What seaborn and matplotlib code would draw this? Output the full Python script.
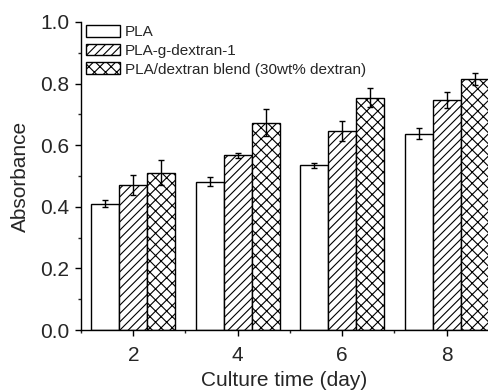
import matplotlib
matplotlib.use("Agg")
import matplotlib.pyplot as plt
import seaborn as sns
import pandas as pd
import numpy as np
from matplotlib.ticker import MultipleLocator

days = [2, 4, 6, 8]
groups = ["PLA", "PLA-g-dextran-1", "PLA/dextran blend (30wt% dextran)"]
pla = [0.410, 0.481, 0.535, 0.637]
pla_err = [0.011, 0.015, 0.008, 0.018]
gdex = [0.470, 0.567, 0.646, 0.746]
gdex_err = [0.032, 0.009, 0.031, 0.025]
blend = [0.511, 0.673, 0.754, 0.815]
blend_err = [0.040, 0.043, 0.031, 0.020]

vals = [pla, gdex, blend]
errs = [pla_err, gdex_err, blend_err]
df = pd.DataFrame({
    "day": days * 3,
    "group": [g for g in groups for _ in days],
    "value": pla + gdex + blend,
})

sns.set_style("ticks")
plt.rcParams["font.family"] = ["Liberation Sans", "DejaVu Sans"]
plt.rcParams["hatch.linewidth"] = 0.8

fig = plt.figure(figsize=(4.88, 3.91), dpi=100)
ax = fig.add_axes([0.166, 0.156, 0.834, 0.788])

sns.barplot(data=df, x="day", y="value", hue="group", hue_order=groups,
            native_scale=True, palette=["white"] * 3, edgecolor="black",
            linewidth=1.0, saturation=1, errorbar=None, ax=ax, legend=False)

hatches = [None, "////", "xxx"]
for cont, h, e in zip(ax.containers, hatches, errs):
    xs, ys = [], []
    for p in cont:
        if h:
            p.set_hatch(h)
        p.set_facecolor("white")
        p.set_edgecolor("black")
        xs.append(p.get_x() + p.get_width() / 2)
        ys.append(p.get_height())
    ax.errorbar(xs, ys, yerr=e, fmt="none", ecolor="black", elinewidth=1,
                capsize=2.5, capthick=1, zorder=5)

ax.legend(ax.containers, groups, loc="upper left", bbox_to_anchor=(0.005, 1.0),
          frameon=False, fontsize=11, handlelength=2.2, handleheight=0.8,
          handletextpad=0.35, labelspacing=0.3, borderaxespad=0.0,
          borderpad=0.2)

ax.set_xlim(1, 8.79)
ax.set_ylim(0, 1.0)
ax.set_xticks(days)
ax.set_xticklabels([str(d) for d in days])
ax.xaxis.set_minor_locator(MultipleLocator(1))
ax.yaxis.set_major_locator(MultipleLocator(0.2))
ax.yaxis.set_minor_locator(MultipleLocator(0.1))
ax.yaxis.set_major_formatter(matplotlib.ticker.FormatStrFormatter("%.1f"))
ax.tick_params(axis="both", which="major", labelsize=15, length=4.5, width=1,
               direction="out", color="black")
ax.tick_params(axis="y", which="major", pad=4)
ax.tick_params(axis="x", which="major", pad=7)
ax.tick_params(axis="both", which="minor", length=2.5, width=1, direction="out")
ax.set_xlabel("Culture time (day)", fontsize=15, labelpad=4)
ax.set_ylabel("Absorbance", fontsize=15, labelpad=7)
for s in ["top", "right"]:
    ax.spines[s].set_visible(False)
for s in ["left", "bottom"]:
    ax.spines[s].set_linewidth(1)
    ax.spines[s].set_color("black")

fig.savefig("out.png", dpi=100)
